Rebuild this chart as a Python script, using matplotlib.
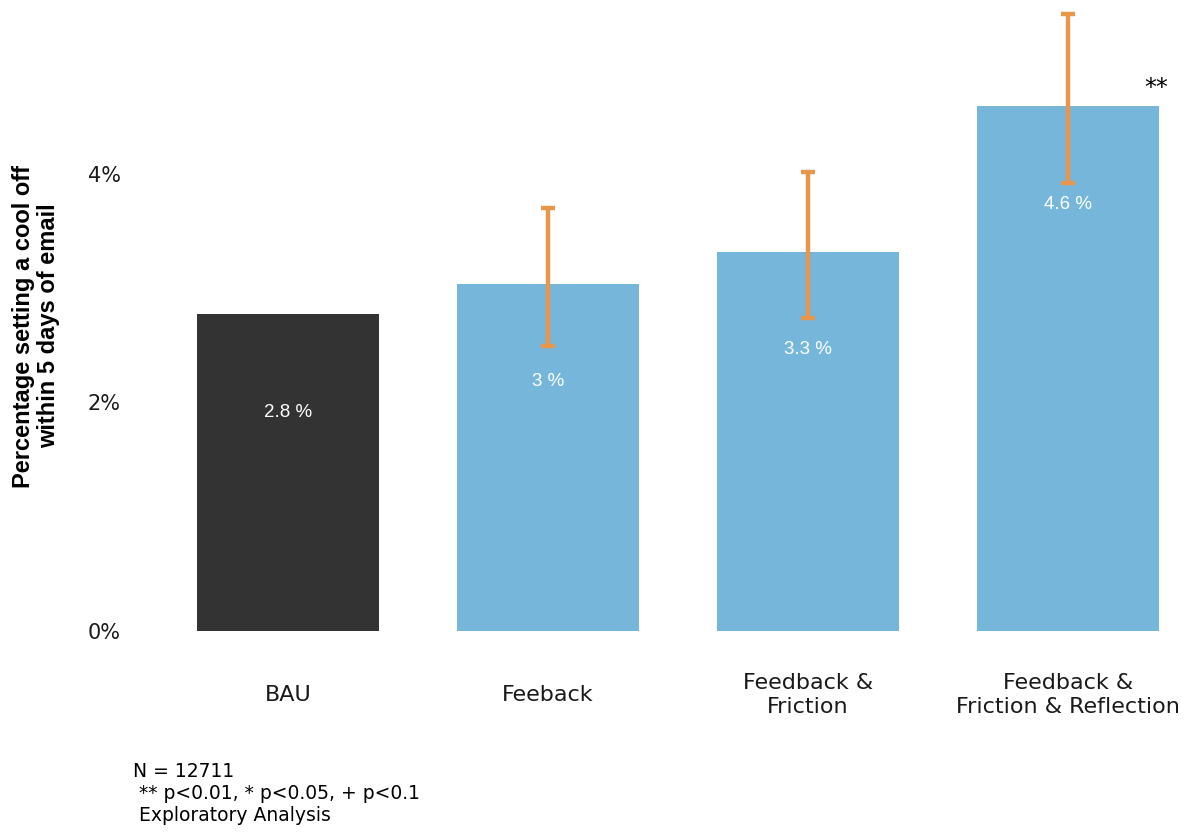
import matplotlib
matplotlib.use("Agg")
import matplotlib.pyplot as plt

# Share of customers setting a cool off within 5 days of the email, by arm
groups = ["BAU", "Feeback", "Feedback &\nFriction", "Feedback &\nFriction & Reflection"]
pct = [2.77, 3.04, 3.32, 4.59]
ci_low = [None, 2.49, 2.74, 3.92]
ci_high = [None, 3.70, 4.02, 5.40]
signif = ["", "", "", "**"]
y_ticks = [0, 2, 4]
bar_colors = ["#333333", "#77B6DB", "#77B6DB", "#77B6DB"]
err_color = "#E8964B"

W, H = 1197, 832
fig = plt.figure(figsize=(W / 100, H / 100), dpi=100)
ax = fig.add_axes([132 / W, (H - 662) / H, (W - 132) / W, 662 / H])

main_font = "DejaVu Sans"
x = list(range(len(groups)))
ax.bar(x, pct, width=0.7, color=bar_colors, zorder=1)

for i, v in enumerate(pct):
    if ci_low[i] is not None:
        ax.errorbar(i, (ci_low[i] + ci_high[i]) / 2,
                    yerr=[[(ci_high[i] - ci_low[i]) / 2]],
                    ecolor=err_color, elinewidth=3.2, capsize=5, capthick=3.2,
                    fmt="none", zorder=3)
    ax.text(i, v - 0.86, f"{round(v, 1):g} %", color="white", ha="center",
            va="center", fontsize=13.5, family="Liberation Sans", zorder=4)
    if signif[i]:
        ax.text(i + 0.34, v + 0.16, signif[i], ha="center", va="center",
                fontsize=17, family="DejaVu Sans", color="black")

ax.set_xlim(-0.6, -0.6 + (W - 132) / 260)
ax.set_ylim(-0.27, 631 / 114.3)
ax.set_yticks(y_ticks)
ax.set_yticklabels([f"{t}%" for t in y_ticks], fontsize=15, family=main_font,
                   color="#1a1a1a")
ax.set_xticks(x)
ax.set_xticklabels(groups, fontsize=16, family=main_font, color="#1a1a1a",
                   linespacing=1.26, va="center")
ax.tick_params(axis="both", length=0)
ax.tick_params(axis="y", pad=8)
ax.tick_params(axis="x", pad=24)
for s in ax.spines.values():
    s.set_visible(False)

fig.text(36 / W, 1 - 326 / H, "Percentage setting a cool off\nwithin 5 days of email",
         rotation=90, ha="center", va="center", fontsize=17, fontweight="bold",
         family="Liberation Sans", linespacing=1.15)

fig.text(133 / W, 1 - 762 / H,
         "N = 12711\n ** p<0.01, * p<0.05, + p<0.1\n Exploratory Analysis",
         ha="left", va="top", fontsize=13.5, family=main_font, linespacing=1.2)

fig.savefig("out.png", dpi=100, facecolor="white")
